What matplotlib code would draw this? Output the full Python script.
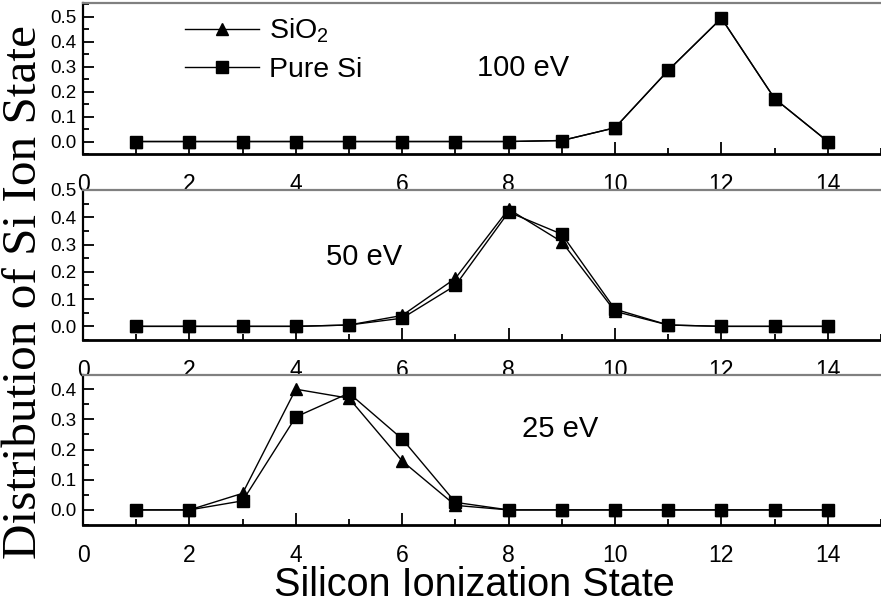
import numpy as np
import matplotlib
matplotlib.use("Agg")
import matplotlib.pyplot as plt
from matplotlib.ticker import MultipleLocator

plt.rcParams['font.family'] = ['Liberation Sans', 'DejaVu Sans']
plt.rcParams['mathtext.fontset'] = 'custom'
plt.rcParams['mathtext.rm'] = 'Liberation Sans'
plt.rcParams['mathtext.default'] = 'regular'

# ionization states
states = [1, 2, 3, 4, 5, 6, 7, 8, 9, 10, 11, 12, 13, 14]

# 100 eV
sio2_100 = [0, 0, 0, 0, 0, 0, 0, 0, 0.004, 0.055, 0.285, 0.494, 0.172, 0.0]
si_100 = [0, 0, 0, 0, 0, 0, 0, 0, 0.004, 0.055, 0.285, 0.494, 0.172, 0.0]

# 50 eV
sio2_50 = [0, 0, 0, 0, 0.005, 0.04, 0.176, 0.43, 0.31, 0.055, 0.005, 0, 0, 0]
si_50 = [0, 0, 0, 0, 0.005, 0.03, 0.15, 0.419, 0.338, 0.063, 0.005, 0, 0, 0]

# 25 eV
sio2_25 = [0, 0, 0.055, 0.40, 0.37, 0.162, 0.015, 0, 0, 0, 0, 0, 0, 0]
si_25 = [0, 0, 0.03, 0.308, 0.387, 0.235, 0.025, 0, 0, 0, 0, 0, 0, 0]

energies = ['100 eV', '50 eV', '25 eV']
panels = [(sio2_100, si_100), (sio2_50, si_50), (sio2_25, si_25)]
ylims = [(-0.05, 0.555), (-0.05, 0.5), (-0.05, 0.447)]
ymax_tick = [0.5, 0.5, 0.4]
label_pos = [(8.27, 0.295), (5.28, 0.254), (8.97, 0.268)]

fig = plt.figure(figsize=(8.81, 6.06), dpi=100)
W, H = 881, 606
boxes = [(3, 154), (190, 340), (375, 525)]

for i, (top, bot) in enumerate(boxes):
    ax = fig.add_axes([83 / W, 1 - bot / H, (W - 83) / W, (bot - top) / H])
    a, b = panels[i]
    ax.plot(states, a, color='k', lw=1, marker='^', ms=9, mfc='k', mec='k', label='SiO$_2$')
    ax.plot(states, b, color='k', lw=1, marker='s', ms=8, mfc='k', mec='k', label='Pure Si')
    ax.set_xlim(0, 15)
    ax.set_ylim(*ylims[i])
    ax.set_xticks(np.arange(0, 15, 2))
    ax.xaxis.set_minor_locator(MultipleLocator(1))
    ax.set_yticks(np.round(np.arange(0, ymax_tick[i] + 0.01, 0.1), 1))
    ax.yaxis.set_minor_locator(MultipleLocator(0.05))
    ax.tick_params(axis='x', which='major', direction='in', length=9, width=1.3,
                   labelsize=16.5, pad=14)
    ax.tick_params(axis='x', which='minor', direction='in', length=4.5, width=1.3)
    ax.tick_params(axis='y', which='major', direction='in', length=8, width=1.3,
                   labelsize=13.5, pad=5)
    ax.tick_params(axis='y', which='minor', direction='in', length=4.5, width=1.3)
    ax.spines['right'].set_visible(False)
    ax.spines['top'].set_color('#808080')
    ax.spines['top'].set_linewidth(1.6)
    ax.spines['bottom'].set_linewidth(2)
    ax.spines['left'].set_linewidth(1.6)
    ax.text(label_pos[i][0], label_pos[i][1], energies[i], fontsize=21,
            ha='center', va='center')
    if i == 0:
        ax.legend(loc='center left', bbox_to_anchor=(0.128, 0.69), frameon=False,
                  fontsize=20.5, handlelength=2.6, handletextpad=0.35,
                  labelspacing=0.42, borderpad=0, borderaxespad=0)

fig.text(0.539, 0.035, 'Silicon Ionization State', fontsize=28.5,
         ha='center', va='center')
fig.text(0.027, 0.518, 'Distribution of Si Ion State', fontsize=35.5,
         family=['Liberation Serif', 'DejaVu Serif'], rotation=90,
         ha='center', va='center')

fig.savefig('out.png', dpi=100)
